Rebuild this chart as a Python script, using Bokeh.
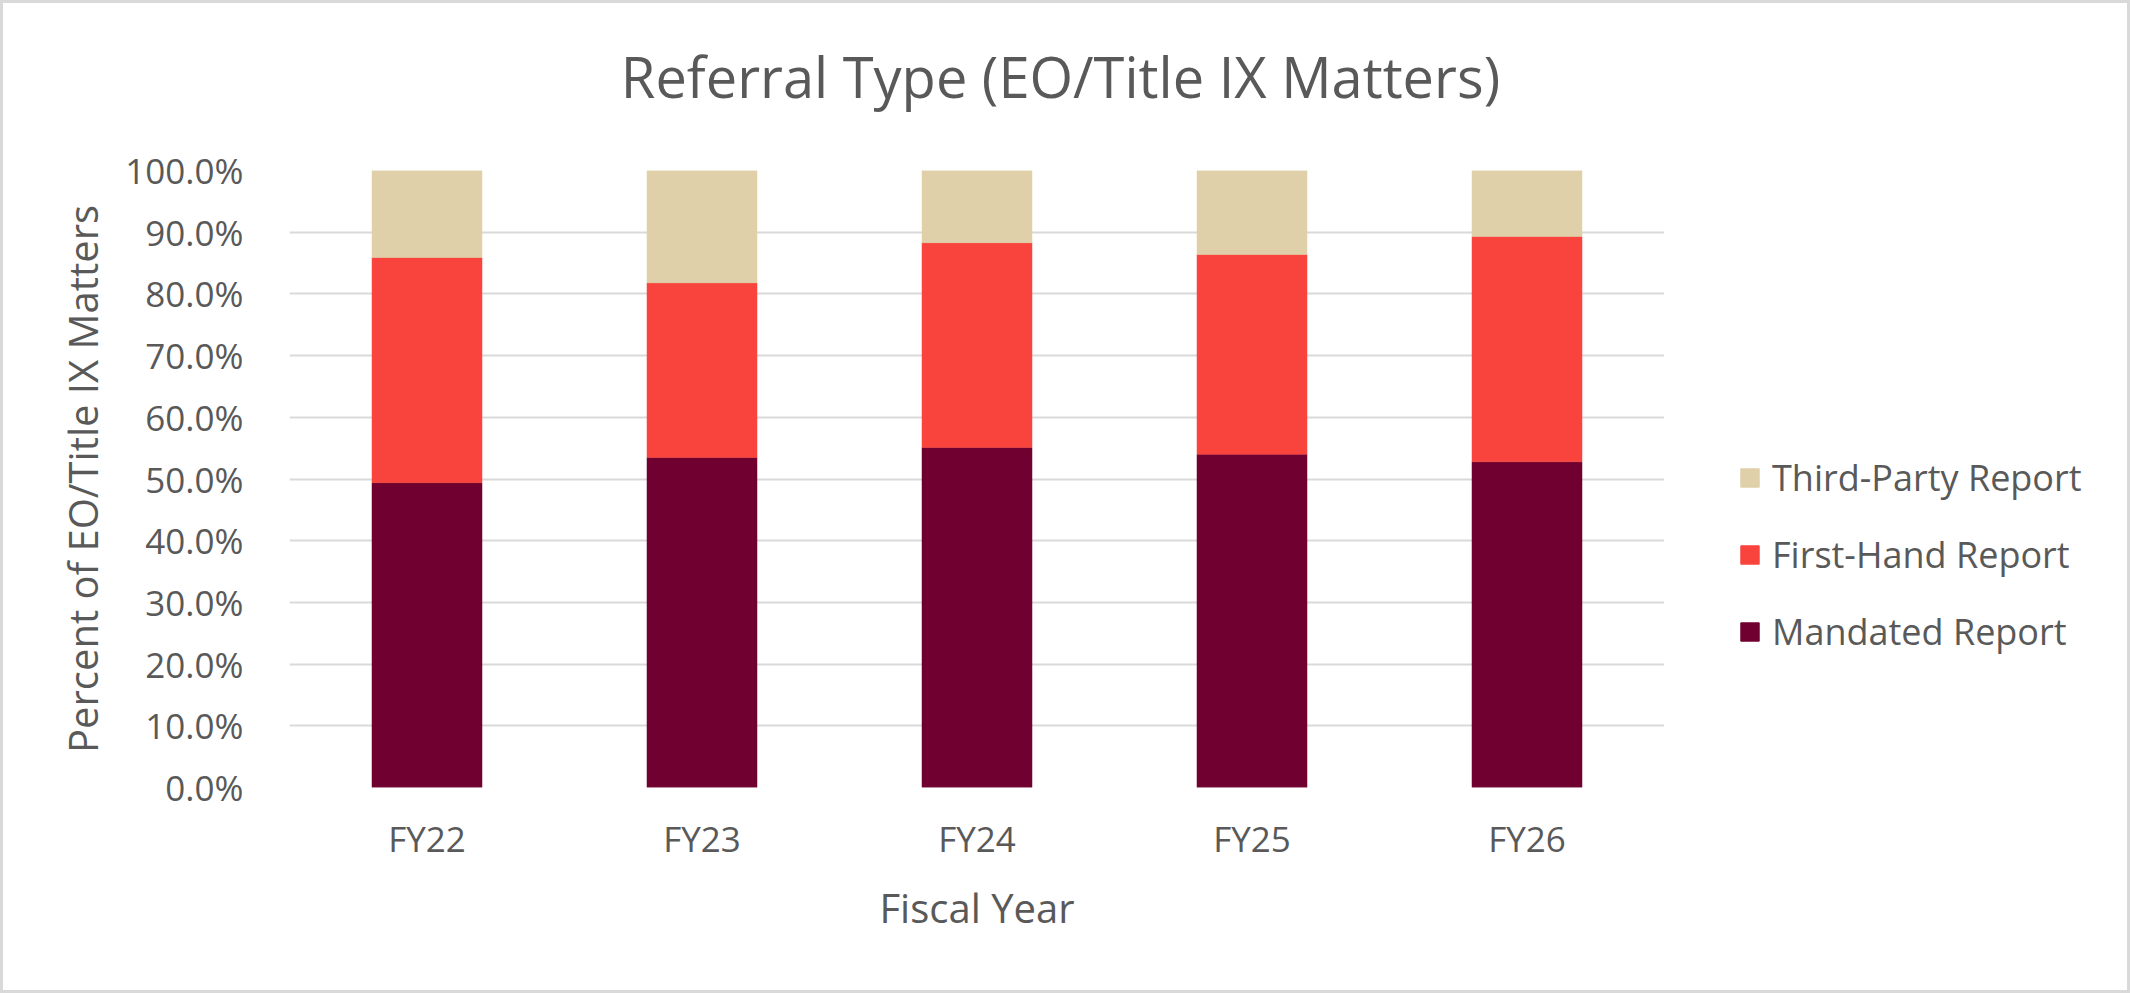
from bokeh.plotting import figure
from bokeh.models import (ColumnDataSource, FactorRange, Range1d, NumeralTickFormatter,
                          Legend, LegendItem, Label, FixedTicker)
from bokeh.layouts import row
from bokeh.embed import file_html
from bokeh.resources import INLINE

# Share of EO/Title IX matters by referral type, per fiscal year
years = ["FY22", "FY23", "FY24", "FY25", "FY26"]
mandated = [0.494, 0.535, 0.551, 0.540, 0.528]
first_hand = [0.365, 0.283, 0.332, 0.324, 0.365]
third_party = [0.141, 0.182, 0.117, 0.136, 0.107]

series = ["mandated", "first_hand", "third_party"]
series_labels = ["Mandated Report", "First-Hand Report", "Third-Party Report"]
colors = ["#6f0030", "#f9443d", "#dfd0a9"]
y_ticks = [i / 10 for i in range(11)]

FONT = "Open Sans"
GREY = "#595959"

source = ColumnDataSource(data=dict(years=years, mandated=mandated,
                                    first_hand=first_hand, third_party=third_party))

p = figure(x_range=FactorRange(*years, range_padding=0), y_range=Range1d(0, 1),
           width=1661, height=987, output_backend="svg", toolbar_location=None,
           min_border_left=286, min_border_right=0,
           min_border_top=167, min_border_bottom=203,
           background_fill_color="white", border_fill_color="white")
p.outline_line_color = None

renderers = p.vbar_stack(series, x="years", width=0.4, color=colors,
                         line_color=colors, line_width=0.5, source=source)

# y axis
p.yaxis.ticker = FixedTicker(ticks=y_ticks)
p.yaxis.formatter = NumeralTickFormatter(format="0.0%")
p.yaxis.axis_line_color = None
p.yaxis.major_tick_line_color = None
p.yaxis.minor_tick_line_color = None
p.yaxis.major_label_standoff = 40
p.yaxis.axis_label = "Percent of EO/Title IX Matters"
p.yaxis.axis_label_standoff = 12

# x axis
p.xaxis.axis_line_color = None
p.xaxis.major_tick_line_color = None
p.xaxis.major_label_standoff = 21
p.xaxis.axis_label = "Fiscal Year"
p.xaxis.axis_label_standoff = 15

for ax in (p.xaxis, p.yaxis):
    ax.major_label_text_font = FONT
    ax.major_label_text_font_size = "35px"
    ax.major_label_text_color = GREY
    ax.axis_label_text_font = FONT
    ax.axis_label_text_font_size = "40px"
    ax.axis_label_text_font_style = "normal"
    ax.axis_label_text_color = GREY

p.xgrid.grid_line_color = None
p.ygrid.grid_line_color = "#d9d9d9"
p.ygrid.grid_line_width = 2

# chart title in the top margin, centred on the whole chart area
p.add_layout(Label(x=771, y=95, x_units="screen", y_units="screen",
                   text="Referral Type (EO/Title IX Matters)", text_align="center",
                   text_baseline="alphabetic", text_font=FONT, text_font_size="56px",
                   text_color=GREY), "above")

# legend strip to the right of the plot; its swatch renderers share the data
# but stay hidden, so only the legend entries show
lf = figure(width=463, height=987, x_range=FactorRange(*years), y_range=Range1d(0, 1),
            x_axis_type=None, y_axis_type=None, output_backend="svg",
            toolbar_location=None, min_border=0, outline_line_color=None,
            background_fill_color="white", border_fill_color="white")
lf.xgrid.visible = False
lf.ygrid.visible = False
swatches = lf.vbar_stack(series, x="years", width=0.4, color=colors,
                         source=source, visible=False)

legend = Legend(items=[LegendItem(label=series_labels[i], renderers=[swatches[i]])
                       for i in (2, 1, 0)],
                location=(74, 131), orientation="vertical",
                glyph_width=23, glyph_height=23, label_standoff=11, spacing=28,
                padding=0, margin=0, border_line_alpha=0, background_fill_alpha=0,
                inactive_fill_alpha=0,
                label_text_font=FONT, label_text_font_size="36px",
                label_text_color=GREY)
lf.add_layout(legend)

layout = row(p, lf, spacing=0)
layout.styles = {"border": "3px solid #d9d9d9"}

open("out.html", "w").write(file_html(layout, INLINE))
